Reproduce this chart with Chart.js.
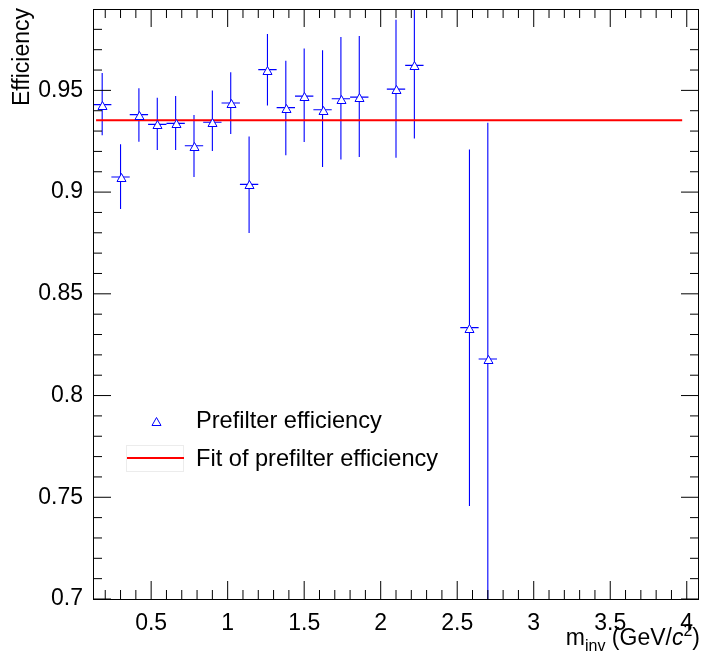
<!DOCTYPE html>
<html>
<head>
<meta charset="utf-8">
<script src="https://cdn.jsdelivr.net/npm/chart.js@4.4.0/dist/chart.umd.min.js"></script>
<style>
html, body { margin: 0; padding: 0; background: #fff; }
canvas { display: block; }
</style>
</head>
<body>
<canvas id="myChart" width="702" height="657"></canvas>
<script>
// bin centres (GeV/c^2) and prefilter efficiency
const massBins = [0.18, 0.30, 0.42, 0.54, 0.66, 0.78, 0.90, 1.02, 1.14, 1.26, 1.38, 1.50, 1.62, 1.74, 1.86, 2.10, 2.22, 2.58, 2.70]
const efficiency = [0.9430, 0.9074, 0.9381, 0.9333, 0.9338, 0.9228, 0.9343, 0.9438, 0.9038, 0.9602, 0.9415, 0.9472, 0.9405, 0.9459, 0.9467, 0.9506, 0.9623, 0.8334, 0.8180]
const effHigh = [0.9585, 0.9235, 0.9510, 0.9464, 0.9472, 0.9379, 0.9500, 0.9589, 0.9273, 0.9777, 0.9646, 0.9706, 0.9697, 0.9762, 0.9767, 0.9847, 0.9980, 0.9210, 0.9341]
const effLow = [0.9279, 0.8917, 0.9248, 0.9207, 0.9207, 0.9074, 0.9202, 0.9285, 0.8799, 0.9426, 0.9181, 0.9246, 0.9123, 0.9160, 0.9173, 0.9169, 0.9264, 0.7457, 0.6900]
const binHalfWidth = 0.06

// constant fit
const fitRange = [0.14, 3.97]
const fitValue = 0.9353

const xTickLabels = [0.5, 1, 1.5, 2, 2.5, 3, 3.5, 4]
const yTickLabels = [0.7, 0.75, 0.8, 0.85, 0.9, 0.95]
const xRange = [0.12, 4.08]
const yRange = [0.7, 0.99]

const FONT = '"Liberation Sans", Arial, Helvetica, sans-serif'
const BLUE = '#0000ff'

// open triangle, ROOT marker 26, drawn crisp on the pixel grid
function drawTriangle(ctx, x, y) {
    const cx = Math.round(x) + 0.5
    const cy = Math.round(y)
    ctx.beginPath()
    ctx.moveTo(cx, cy - 3.5)
    ctx.lineTo(cx + 4.5, cy + 4.5)
    ctx.lineTo(cx - 4.5, cy + 4.5)
    ctx.closePath()
    ctx.fillStyle = '#fff'
    ctx.fill()
    ctx.strokeStyle = BLUE
    ctx.lineWidth = 1
    ctx.stroke()
}

const errorBars = {
    id: 'errorBars',
    beforeDatasetsDraw(chart) {
        const { ctx, chartArea, scales: { x, y } } = chart
        ctx.save()
        ctx.beginPath()
        ctx.rect(chartArea.left, chartArea.top, chartArea.right - chartArea.left, chartArea.bottom - chartArea.top)
        ctx.clip()
        ctx.strokeStyle = BLUE
        ctx.lineWidth = 1.1
        massBins.forEach((m, i) => {
            const px = x.getPixelForValue(m)
            const py = y.getPixelForValue(efficiency[i])
            ctx.beginPath()
            ctx.moveTo(px, y.getPixelForValue(effHigh[i]))
            ctx.lineTo(px, y.getPixelForValue(effLow[i]))
            ctx.moveTo(x.getPixelForValue(m - binHalfWidth), py)
            ctx.lineTo(x.getPixelForValue(m + binHalfWidth), py)
            ctx.stroke()
        })
        ctx.restore()
    },
    afterDatasetsDraw(chart) {
        const meta = chart.getDatasetMeta(0)
        const { ctx } = chart
        ctx.save()
        meta.data.forEach(pt => drawTriangle(ctx, pt.x, pt.y))
        ctx.restore()
    }
}

const rootFrame = {
    id: 'rootFrame',
    afterDatasetsDraw(chart) {
        const { ctx, chartArea: a, scales: { x, y } } = chart
        ctx.save()
        ctx.strokeStyle = '#000'
        ctx.lineWidth = 1
        ctx.beginPath()
        // x ticks, bottom and top
        for (let k = 2; k <= 40; k++) {
            const v = k / 10
            const px = x.getPixelForValue(v)
            const len = (k % 5 === 0) ? 18 : 9
            ctx.moveTo(px, a.bottom); ctx.lineTo(px, a.bottom - len)
            ctx.moveTo(px, a.top); ctx.lineTo(px, a.top + len)
        }
        // y ticks, left and right
        for (let k = 70; k <= 98; k++) {
            const py = y.getPixelForValue(k / 100)
            const len = (k % 5 === 0) ? 18 : 9
            ctx.moveTo(a.left, py); ctx.lineTo(a.left + len, py)
            ctx.moveTo(a.right, py); ctx.lineTo(a.right - len, py)
        }
        ctx.stroke()
        ctx.strokeRect(Math.round(a.left) + 0.5, Math.round(a.top) + 0.5,
            Math.round(a.right - a.left) - 1, Math.round(a.bottom - a.top))
        ctx.restore()
    },
    afterDraw(chart) {
        const { ctx } = chart
        ctx.save()
        ctx.fillStyle = '#000'

        // y title
        ctx.font = '23px ' + FONT
        ctx.save()
        ctx.translate(29, 8)
        ctx.rotate(-Math.PI / 2)
        ctx.textAlign = 'right'
        ctx.textBaseline = 'alphabetic'
        ctx.fillText('Efficiency', 0, 0)
        ctx.restore()

        // x title: m_inv (GeV/c^2)
        const parts = [
            { t: 'm', f: '23px ' + FONT, dy: 0 },
            { t: 'inv', f: '16px ' + FONT, dy: 6 },
            { t: ' (GeV/', f: '23px ' + FONT, dy: 0 },
            { t: 'c', f: 'italic 23px ' + FONT, dy: 0 },
            { t: '2', f: '16px ' + FONT, dy: -9 },
            { t: ')', f: '23px ' + FONT, dy: 0 }
        ]
        let total = 0
        parts.forEach(p => { ctx.font = p.f; p.w = ctx.measureText(p.t).width; total += p.w })
        let cx = 700 - total
        const base = 645
        ctx.textAlign = 'left'
        ctx.textBaseline = 'alphabetic'
        parts.forEach(p => {
            ctx.font = p.f
            ctx.fillText(p.t, cx, base + p.dy)
            cx += p.w
        })

        // legend
        drawTriangle(ctx, 156, 421)
        ctx.strokeStyle = '#ececec'
        ctx.lineWidth = 1
        ctx.strokeRect(126.5, 445.5, 57, 26)
        ctx.strokeStyle = '#ff0000'
        ctx.lineWidth = 2
        ctx.beginPath()
        ctx.moveTo(127, 458)
        ctx.lineTo(184, 458)
        ctx.stroke()
        ctx.fillStyle = '#000'
        ctx.font = '23.6px ' + FONT
        ctx.textBaseline = 'middle'
        ctx.fillText('Prefilter efficiency', 196, 421)
        ctx.fillText('Fit of prefilter efficiency', 196, 459)
        ctx.restore()
    }
}

const ctx = document.getElementById('myChart').getContext('2d')
const myChart = new Chart(ctx, {
    type: 'scatter',
    data: {
        datasets: [
            {
                label: 'Prefilter efficiency',
                data: massBins.map((m, i) => ({ x: m, y: efficiency[i] })),
                pointRadius: 0,
                borderColor: BLUE,
                backgroundColor: '#fff',
                order: 1
            },
            {
                label: 'Fit of prefilter efficiency',
                type: 'line',
                data: fitRange.map(v => ({ x: v, y: fitValue })),
                borderColor: '#ff0000',
                borderWidth: 2,
                pointRadius: 0,
                fill: false,
                order: 2
            }
        ]
    },
    options: {
        responsive: false,
        animation: false,
        devicePixelRatio: 1,
        layout: { padding: { top: 9, right: 3, left: 0, bottom: 0 } },
        plugins: {
            legend: { display: false },
            tooltip: { enabled: false }
        },
        scales: {
            x: {
                type: 'linear',
                min: xRange[0],
                max: xRange[1],
                grid: { display: false, drawTicks: false },
                border: { display: false },
                afterBuildTicks: s => { s.ticks = xTickLabels.map(v => ({ value: v })) },
                afterFit: s => { s.height = 58; s.paddingLeft = 0; s.paddingRight = 0 },
                ticks: {
                    color: '#000',
                    padding: 11,
                    maxRotation: 0,
                    autoSkip: false,
                    font: { family: FONT, size: 23 },
                    callback: v => String(v)
                }
            },
            y: {
                type: 'linear',
                min: yRange[0],
                max: yRange[1],
                grid: { display: false, drawTicks: false },
                border: { display: false },
                afterBuildTicks: s => { s.ticks = yTickLabels.map(v => ({ value: v })) },
                afterFit: s => { s.width = 93; s.paddingTop = 0; s.paddingBottom = 0 },
                ticks: {
                    color: '#000',
                    padding: 10,
                    autoSkip: false,
                    font: { family: FONT, size: 23 },
                    callback: v => String(v)
                }
            }
        }
    },
    plugins: [errorBars, rootFrame]
})
</script>
</body>
</html>
